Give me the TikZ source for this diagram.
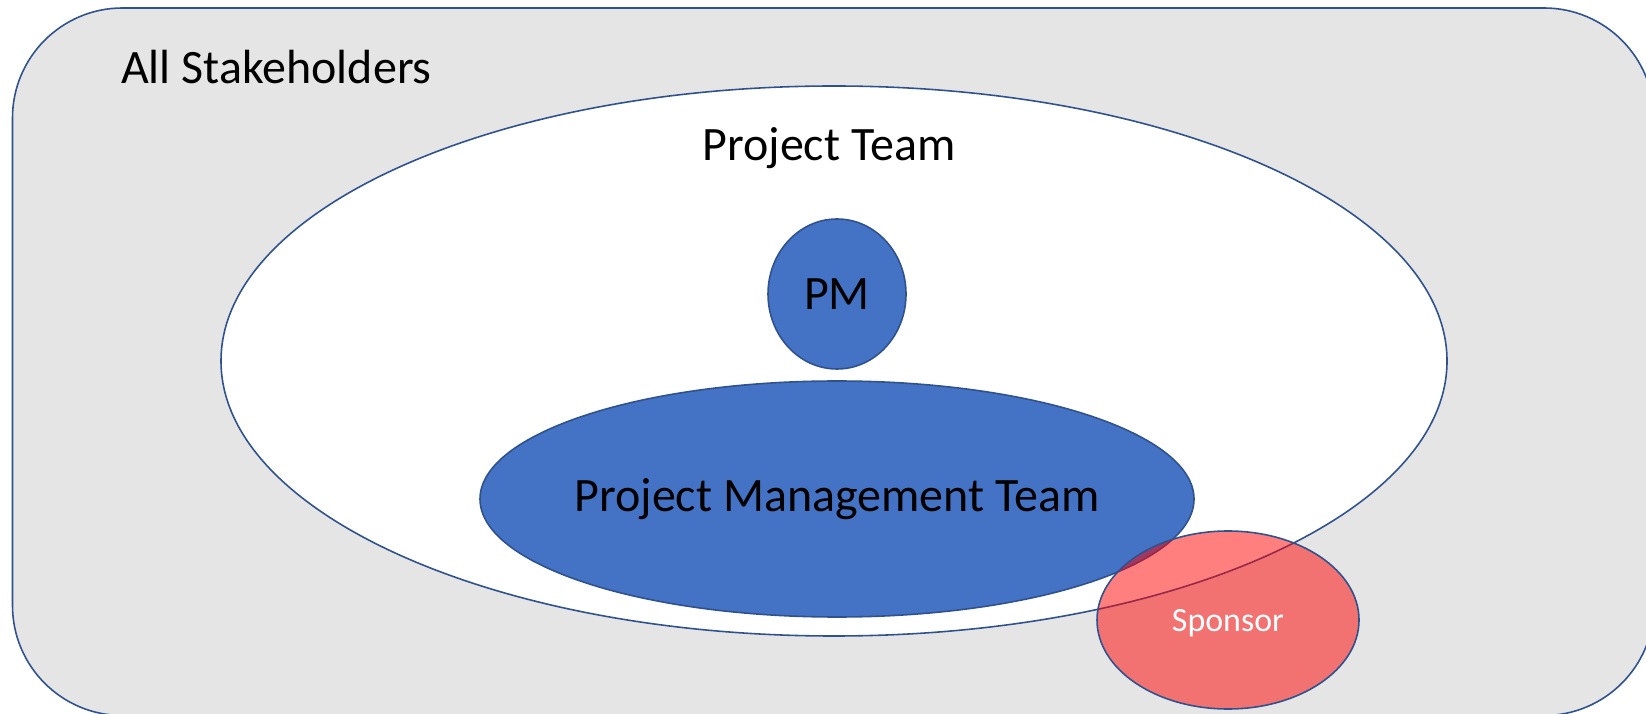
\documentclass[tikz,border=0pt]{standalone}
\usepackage{fontspec}
\setmainfont{Carlito}
\usepackage{xcolor}
\usetikzlibrary{shapes.geometric}

\definecolor{edgeblue}{RGB}{47,82,143}
\definecolor{fillblue}{RGB}{68,114,196}
\definecolor{stakegray}{RGB}{229,229,229}

\tikzset{
  blob/.style={ellipse, draw=edgeblue, line width=0.9pt, inner sep=0pt},
  bigtext/.style={font=\fontsize{27.3}{32}\selectfont, text=black}
}

\begin{document}
\begin{tikzpicture}
\useasboundingbox (0,0) rectangle (32.92,14.26);
\clip (0,0) rectangle (32.92,14.26);
\filldraw [fill=stakegray, draw=edgeblue, line width=0.9pt, rounded corners=2.2cm] (0.25,-0.05) rectangle (33.08,14.1); %all stakeholders box
\node [bigtext, anchor=west] (all) at (2.3,12.92) {All Stakeholders};

\node [blob, fill=white, minimum width=24.52cm, minimum height=11cm] (team) at (16.68,7.04) {}; %project team
\node [bigtext] (teamlbl) at (16.58,11.3) {Project Team};

\node [blob, fill=fillblue, minimum width=2.76cm, minimum height=3cm, bigtext] (pm) at (16.74,8.38) {PM};
\node [blob, fill=fillblue, minimum width=14.28cm, minimum height=4.72cm] (pmt) at (16.74,4.28) {};
\node [bigtext] (pmtlbl) at (pmt.center) {Project Management Team};

%sponsor sits on top, half see-through
\node [blob, fill=red, fill opacity=0.5, minimum width=5.24cm, minimum height=3.56cm] (sponsor) at (24.56,1.86) {};
\node [text=white, font=\fontsize{19.3}{23}\selectfont] (sponsorlbl) at ([yshift=-0.06cm]sponsor.center) {Sponsor};
\end{tikzpicture}
\end{document}
